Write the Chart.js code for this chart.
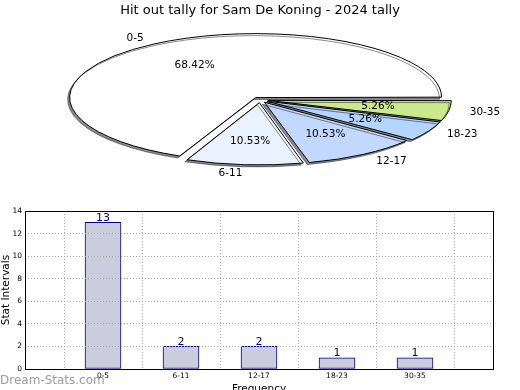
<!DOCTYPE html>
<html>
<head>
<meta charset="utf-8">
<script src="https://cdn.jsdelivr.net/npm/chart.js@4/dist/chart.umd.min.js"></script>
<style>
  html, body { margin: 0; padding: 0; background: #fff; overflow: hidden; }
  #wrap { position: relative; width: 520px; height: 390px; overflow: hidden; }
  #pieBox { position: absolute; left: 0; top: 0; width: 520px; height: 200px; }
  #barBox { position: absolute; left: 0; top: 195px; width: 520px; height: 205px; }
</style>
</head>
<body>
<div id="wrap">
  <div id="pieBox"><canvas id="pieChart"></canvas></div>
  <div id="barBox"><canvas id="barChart"></canvas></div>
</div>
<script>
// --- data ---
const categories = ['0-5', '6-11', '12-17', '18-23', '30-35'];
const counts = [13, 2, 2, 1, 1];
const pieColors = ['#ffffff', '#eaf1ff', '#c2d8ff', '#b3d5ff', '#cbe98b'];
const yTicks = [0, 2, 4, 6, 8, 10, 12, 14];

const FONT = 'DejaVu Sans';
const squash = 0.344;   // vertical squash of the pie
const explodePx = 8;    // arc offset (chart.js uses offset / 4)
const total = counts.reduce((a, b) => a + b, 0);

// matplotlib goes counter-clockwise from 3 o'clock, chart.js goes clockwise,
// so feed the pie in reverse
const pieLabels = categories.slice().reverse();
const pieValues = counts.slice().reverse();
const pieFill = pieColors.slice().reverse();

// squash the pie into an ellipse, keep the strokes 1px, add a drop shadow
const ellipsePlugin = {
    id: 'ellipse',
    beforeDatasetsDraw(chart) {
        const ctx = chart.ctx;
        const c = chart.getDatasetMeta(0).data[0];
        const dpr = chart.currentDevicePixelRatio;
        ctx.save();
        ctx.translate(c.x, c.y);
        ctx.scale(1, squash);
        ctx.translate(-c.x, -c.y);
        ctx.shadowColor = 'rgba(0,0,0,0.45)';
        ctx.shadowOffsetX = -2;
        ctx.shadowOffsetY = 2;
        const stroke = CanvasRenderingContext2D.prototype.stroke;
        ctx.stroke = function () {
            this.save();
            this.setTransform(dpr, 0, 0, dpr, 0, 0);
            stroke.call(this);
            this.restore();
        };
    },
    afterDatasetsDraw(chart) {
        const ctx = chart.ctx;
        delete ctx.stroke;
        ctx.restore();

        ctx.save();
        ctx.font = '10.5px "' + FONT + '"';
        ctx.fillStyle = '#000';
        ctx.textBaseline = 'middle';
        chart.getDatasetMeta(0).data.forEach((arc, i) => {
            const mid = (arc.startAngle + arc.endAngle) / 2;
            const R = arc.outerRadius + explodePx;
            const cos = Math.cos(mid), sin = Math.sin(mid);
            // category label outside
            const lr = 1.1 * R + explodePx;
            ctx.textAlign = cos > 0 ? 'left' : 'right';
            ctx.fillText(pieLabels[i], arc.x + cos * lr, arc.y + sin * lr * squash);
            // percentage inside
            const pr = 0.6 * R + explodePx;
            ctx.textAlign = 'center';
            const pct = (pieValues[i] / total * 100).toFixed(2) + '%';
            ctx.fillText(pct, arc.x + cos * pr, arc.y + sin * pr * squash);
        });
        ctx.restore();
    }
};

new Chart(document.getElementById('pieChart'), {
    type: 'pie',
    data: {
        labels: pieLabels,
        datasets: [{
            data: pieValues,
            backgroundColor: pieFill,
            borderColor: '#000',
            borderWidth: 1,
            offset: explodePx * 4,
            hoverOffset: 0,
            clip: 1000
        }]
    },
    options: {
        responsive: true,
        maintainAspectRatio: false,
        animation: false,
        rotation: 90,
        radius: 178,
        layout: { padding: { top: 0, bottom: 18.8, left: 0, right: 0 } },
        plugins: {
            legend: { display: false },
            tooltip: { enabled: false },
            title: {
                display: true,
                text: 'Hit out tally for Sam De Koning - 2024 tally',
                color: '#000',
                font: { family: FONT, size: 13, weight: 'normal' },
                padding: { top: 3, bottom: 0 }
            }
        }
    },
    plugins: [ellipsePlugin]
});

// value labels, axes box and watermark
const barExtras = {
    id: 'barExtras',
    afterDraw(chart) {
        const { ctx, chartArea: a } = chart;
        ctx.save();
        ctx.strokeStyle = '#000';
        ctx.lineWidth = 1;
        ctx.strokeRect(Math.round(a.left) + 0.5, Math.round(a.top) + 0.5,
            Math.round(a.right - a.left), Math.round(a.bottom - a.top));

        ctx.font = '11px "' + FONT + '"';
        ctx.fillStyle = '#000080';
        ctx.textAlign = 'center';
        ctx.textBaseline = 'bottom';
        chart.getDatasetMeta(0).data.forEach((bar, i) => {
            ctx.fillText(String(counts[i]), bar.x, bar.y + 1);
        });

        ctx.font = '12px "' + FONT + '"';
        ctx.fillStyle = '#9c9c9c';
        ctx.textAlign = 'left';
        ctx.textBaseline = 'alphabetic';
        ctx.fillText('Dream-Stats.com', 0, 189);
        ctx.restore();
    }
};

new Chart(document.getElementById('barChart'), {
    type: 'bar',
    data: {
        datasets: [{
            data: counts.map((v, i) => ({ x: i, y: v })),
            backgroundColor: '#ccccdf',
            borderColor: '#000080',
            borderWidth: 1,
            borderSkipped: false,
            barThickness: 36
        }]
    },
    options: {
        responsive: true,
        maintainAspectRatio: false,
        animation: false,
        layout: { padding: { top: 16, right: 27, left: 0, bottom: 0 } },
        plugins: {
            legend: { display: false },
            tooltip: { enabled: false }
        },
        scales: {
            x: {
                type: 'linear',
                offset: false,
                min: -1,
                max: 5,
                ticks: {
                    stepSize: 1,
                    autoSkip: false,
                    maxRotation: 0,
                    padding: 3,
                    color: '#000',
                    font: { family: FONT, size: 7.5 },
                    callback: v => categories[v] || ''
                },
                grid: { color: '#a8a8a8', drawTicks: false, z: 1 },
                border: { display: false, dash: [1, 2] },
                title: {
                    display: true,
                    text: 'Frequency',
                    color: '#000',
                    font: { family: FONT, size: 10.5 },
                    padding: { top: 0, bottom: 4 }
                },
                afterFit: s => { s.height = 31; }
            },
            y: {
                min: 0,
                max: 14,
                afterBuildTicks: s => { s.ticks = yTicks.map(v => ({ value: v })); },
                ticks: {
                    padding: 3,
                    color: '#000',
                    font: { family: FONT, size: 7.5 }
                },
                grid: { color: '#a8a8a8', drawTicks: false, z: 1 },
                border: { display: false, dash: [1, 2] },
                title: {
                    display: true,
                    text: 'Stat Intervals',
                    color: '#000',
                    font: { family: FONT, size: 10.5 },
                    padding: { top: 0, bottom: 0 }
                },
                afterFit: s => { s.width = 25; }
            }
        }
    },
    plugins: [barExtras]
});
</script>
</body>
</html>
